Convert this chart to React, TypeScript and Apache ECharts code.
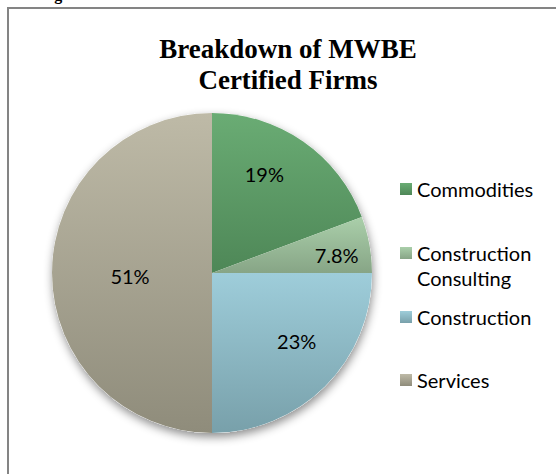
import React, { useEffect, useRef } from "react";
import * as echarts from "echarts";

// ---- data ----
const categories = ["Commodities", "Construction Consulting", "Construction", "Services"];
// slice sizes as drawn (share of the circle, %)
const sliceShares = [19.3, 5.7, 25, 50];
// data labels as printed on the chart
const shareLabels = ["19%", "7.8%", "23%", "51%"];
const titleLines = ["Breakdown of MWBE", "Certified Firms"];
const legendLabels = ["Commodities", "Construction\nConsulting", "Construction", "Services"];

// ---- styling ----
const gradients: [string, string][] = [
  ["#6aac74", "#4e8757"],
  ["#aacfaa", "#87a586"],
  ["#9ecdda", "#78a0aa"],
  ["#bebaa7", "#8f8c7b"],
];
const labelNudge: [number, number][] = [
  [5, -31],
  [43, -3],
  [26, 9],
  [1, 3],
];
const legendIconCenters = [189, 253, 317, 380];
const LEGEND_LINE = 25;
const SANS = "Lato, 'Noto Sans', sans-serif";

function grad(c: [string, string]) {
  return new echarts.graphic.LinearGradient(0, 0, 0, 1, [
    { offset: 0, color: c[0] },
    { offset: 1, color: c[1] },
  ]);
}

export default function App() {
  const ref = useRef<HTMLDivElement>(null);
  useEffect(() => {
    if (!ref.current) return;
    const chart = echarts.init(ref.current, undefined, { renderer: "svg" });
    const data = categories.map((name, i) => ({
      name,
      value: sliceShares[i],
      itemStyle: { color: grad(gradients[i]) },
    }));
    const legends = categories.map((name, i) => {
      const lines = legendLabels[i].split("\n");
      // multi-line entries: keep first line level with the icon (pad with an empty line above)
      const text = lines.length > 1 ? "\n" + lines.join("\n") : lines[0];
      const nLines = lines.length > 1 ? 3 : 1;
      const h = LEGEND_LINE * nLines;
      return {
        data: [name],
        left: 400,
        top: legendIconCenters[i] - h / 2,
        padding: 0,
        itemWidth: 12,
        itemHeight: 12,
        itemGap: 0,
        icon: "rect",
        selectedMode: false,
        formatter: () => text,
        textStyle: {
          fontFamily: SANS,
          fontSize: 20,
          color: "#000",
          lineHeight: LEGEND_LINE,
        },
      };
    });
    chart.setOption({
      animation: false,
      backgroundColor: "#fff",
      title: {
        text: titleLines.join("\n"),
        left: 288,
        top: 33,
        textAlign: "center",
        padding: 0,
        textStyle: {
          fontFamily: "'Liberation Serif', 'Times New Roman', serif",
          fontWeight: "bold",
          fontSize: 27,
          lineHeight: 31,
          color: "#000",
        },
      },
      legend: legends,
      graphic: [
        { type: "rect", shape: { x: 7, y: 7, width: 549, height: 2 }, style: { fill: "#848484" } },
        { type: "rect", shape: { x: 7, y: 7, width: 2, height: 467 }, style: { fill: "#848484" } },
        {
          type: "text",
          x: 40,
          y: -6,
          style: {
            text: "Figure",
            fontFamily: "'Liberation Serif', serif",
            fontWeight: "bold",
            fontSize: 16,
            fill: "#000",
            verticalAlign: "middle",
          },
        },
      ],
      series: [
        {
          type: "pie",
          name: "shadow",
          center: [212, 273],
          radius: 160,
          silent: true,
          z: 1,
          label: { show: false },
          labelLine: { show: false },
          data: [
            {
              name: "_shadow",
              value: 1,
              itemStyle: {
                color: "#ffffff",
                shadowBlur: 10,
                shadowColor: "rgba(0,0,0,0.45)",
                shadowOffsetX: 1,
                shadowOffsetY: 4,
              },
            },
          ],
        },
        {
          type: "pie",
          name: "MWBE",
          center: [212, 273],
          radius: 160,
          startAngle: 90,
          clockwise: true,
          z: 2,
          avoidLabelOverlap: false,
          silent: true,
          itemStyle: { borderWidth: 0 },
          label: {
            show: true,
            position: "inside",
            formatter: (p: any) => shareLabels[p.dataIndex],
            fontFamily: SANS,
            fontSize: 20,
            color: "#000",
          },
          labelLine: { show: false },
          labelLayout: (p: any) => ({ dx: labelNudge[p.dataIndex][0], dy: labelNudge[p.dataIndex][1] }),
          data,
        },
      ],
    });
    return () => chart.dispose();
  }, []);
  return (
    <div
      ref={ref}
      style={{ position: "absolute", left: 0, top: 0, width: 556, height: 474 }}
    />
  );
}
